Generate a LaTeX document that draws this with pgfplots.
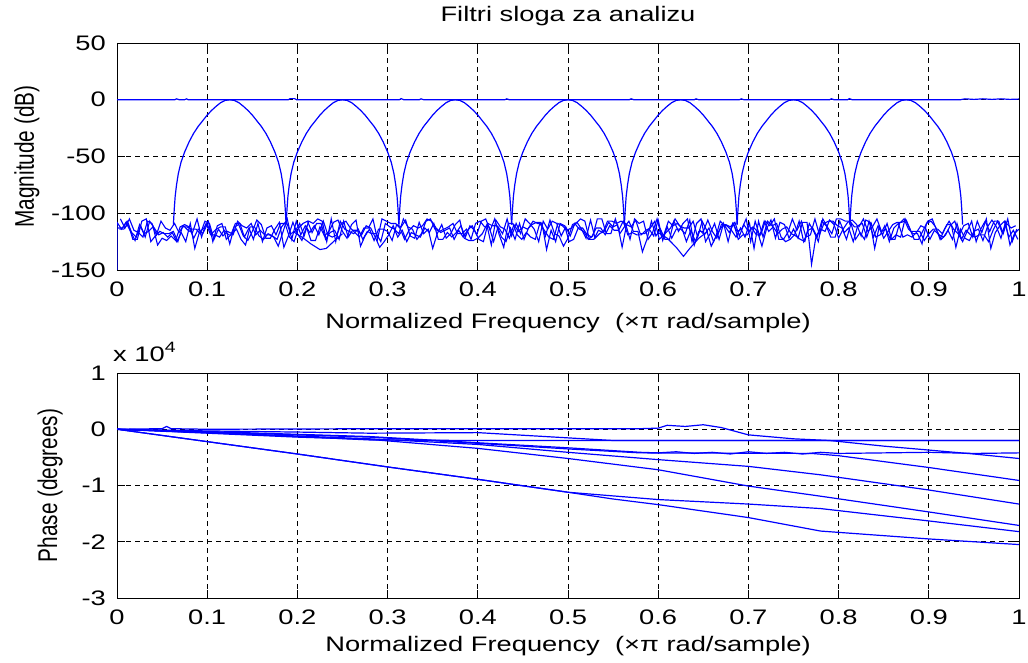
\documentclass[border=0pt]{standalone}
\usepackage{pgfplots}
\pgfplotsset{compat=1.18}
\usepackage{pgfplotstable}
\usepackage{fontspec}
\setmainfont{Liberation Sans}[FakeStretch=1.3]
\newfontfamily\rotfont{Liberation Sans}[FakeStretch=0.77]

\pgfplotstableread{
y x1 x2 x3 x4 x5 x6 x7
-110 0.0625 0.1875 0.3125 0.4375 0.5625 0.6875 0.8125
-96 0.0635 0.1885 0.3135 0.4385 0.5635 0.6885 0.8135
-85 0.0645 0.1895 0.3145 0.4395 0.5645 0.6895 0.8145
-75 0.066 0.191 0.316 0.441 0.566 0.691 0.816
-65 0.068 0.193 0.318 0.443 0.568 0.693 0.818
-55 0.071 0.196 0.321 0.446 0.571 0.696 0.821
-46 0.075 0.2 0.325 0.45 0.575 0.7 0.825
-37 0.08 0.205 0.33 0.455 0.58 0.705 0.83
-29.5 0.085 0.21 0.335 0.46 0.585 0.71 0.835
-23.5 0.09 0.215 0.34 0.465 0.59 0.715 0.84
-18.5 0.095 0.22 0.345 0.47 0.595 0.72 0.845
-13.5 0.1 0.225 0.35 0.475 0.6 0.725 0.85
-9.3 0.105 0.23 0.355 0.48 0.605 0.73 0.855
-5.7 0.11 0.235 0.36 0.485 0.61 0.735 0.86
-2.5 0.115 0.24 0.365 0.49 0.615 0.74 0.865
-0.6 0.12 0.245 0.37 0.495 0.62 0.745 0.87
0 0.125 0.25 0.375 0.5 0.625 0.75 0.875
-0.6 0.13 0.255 0.38 0.505 0.63 0.755 0.88
-2.5 0.135 0.26 0.385 0.51 0.635 0.76 0.885
-5.7 0.14 0.265 0.39 0.515 0.64 0.765 0.89
-9.3 0.145 0.27 0.395 0.52 0.645 0.77 0.895
-13.5 0.15 0.275 0.4 0.525 0.65 0.775 0.9
-18.5 0.155 0.28 0.405 0.53 0.655 0.78 0.905
-23.5 0.16 0.285 0.41 0.535 0.66 0.785 0.91
-29.5 0.165 0.29 0.415 0.54 0.665 0.79 0.915
-37 0.17 0.295 0.42 0.545 0.67 0.795 0.92
-46 0.175 0.3 0.425 0.55 0.675 0.8 0.925
-55 0.179 0.304 0.429 0.554 0.679 0.804 0.929
-65 0.182 0.307 0.432 0.557 0.682 0.807 0.932
-75 0.184 0.309 0.434 0.559 0.684 0.809 0.934
-85 0.1855 0.3105 0.4355 0.5605 0.6855 0.8105 0.9355
-96 0.1865 0.3115 0.4365 0.5615 0.6865 0.8115 0.9365
-110 0.1875 0.3125 0.4375 0.5625 0.6875 0.8125 0.9375
}\humps

\pgfplotstableread{
x y
0 -150
0 -108
0.005 -114
0.01 -108
0.015 -116
0.02 -124
0.025 -110
0.03 -118
0.035 -116
0.04 -112
0.045 -128
0.05 -122
0.055 -124
0.06 -120
0.065 -124
0.07 -112
0.075 -110
0.08 -112
0.085 -122
0.09 -114
0.095 -118
0.1 -110
0.105 -118
0.11 -114
0.115 -112
0.12 -112
0.125 -127
0.13 -112
0.135 -110
0.14 -120
0.145 -124
0.15 -116
0.155 -106
0.16 -110
0.165 -122
0.17 -122
0.175 -114
0.18 -108
0.185 -130
0.19 -120
0.195 -108
0.2 -118
0.205 -124
0.21 -112
0.215 -124
0.22 -124
0.225 -112
0.23 -120
0.235 -116
0.24 -108
0.245 -106
0.25 -116
0.255 -122
0.26 -110
0.265 -106
0.27 -129
0.275 -120
0.28 -114
0.285 -124
0.29 -114
0.295 -114
0.3 -116
0.305 -124
0.31 -110
0.315 -112
0.32 -106
0.325 -120
0.33 -122
0.335 -108
0.34 -118
0.345 -114
0.35 -131
0.355 -118
0.36 -110
0.365 -122
0.37 -118
0.375 -110
0.38 -106
0.385 -122
0.39 -124
0.395 -124
0.4 -122
0.405 -118
0.41 -110
0.415 -128
0.42 -106
0.425 -112
0.43 -114
0.435 -122
0.44 -110
0.445 -116
0.45 -112
0.455 -114
0.46 -110
0.465 -108
0.47 -108
0.475 -120
0.48 -106
0.485 -118
0.49 -120
0.495 -129
0.5 -122
0.505 -110
0.51 -108
0.515 -114
0.52 -122
0.525 -106
0.53 -122
0.535 -118
0.54 -116
0.545 -108
0.55 -112
0.555 -110
0.56 -130
0.565 -110
0.57 -112
0.575 -106
0.58 -118
0.585 -118
0.59 -114
0.595 -120
0.6 -106
0.605 -124
0.61 -112
0.615 -122
0.62 -114
0.625 -114
0.63 -118
0.635 -106
0.64 -128
0.645 -116
0.65 -116
0.655 -106
0.66 -116
0.665 -122
0.67 -110
0.675 -110
0.68 -112
0.685 -108
0.69 -120
0.695 -110
0.7 -116
0.705 -112
0.71 -116
0.715 -129
0.72 -114
0.725 -106
0.73 -122
0.735 -108
0.74 -110
0.745 -122
0.75 -114
0.755 -122
0.76 -108
0.765 -108
0.77 -145
0.775 -120
0.78 -114
0.785 -116
0.79 -106
0.795 -110
0.8 -122
0.805 -114
0.81 -108
0.815 -106
0.82 -110
0.825 -120
0.83 -106
0.835 -108
0.84 -131
0.845 -112
0.85 -122
0.855 -116
0.86 -110
0.865 -108
0.87 -108
0.875 -106
0.88 -116
0.885 -116
0.89 -116
0.895 -124
0.9 -118
0.905 -114
0.91 -114
0.915 -118
0.92 -110
0.925 -110
0.93 -130
0.935 -114
0.94 -122
0.945 -124
0.95 -116
0.955 -114
0.96 -124
0.965 -112
0.97 -106
0.975 -112
0.98 -122
0.985 -108
0.99 -128
0.995 -118
1 -114
}\noiseA

\pgfplotstableread{
x y
0.0025 -114
0.0075 -114
0.0125 -109
0.0175 -123
0.0225 -123
0.0275 -107
0.0325 -105
0.0375 -125
0.0425 -120
0.0475 -116
0.0525 -118
0.0575 -118
0.0625 -116
0.0675 -125
0.0725 -112
0.0775 -112
0.0825 -114
0.0875 -114
0.0925 -118
0.0975 -107
0.1025 -109
0.1075 -123
0.1125 -114
0.1175 -120
0.1225 -116
0.1275 -118
0.1325 -114
0.1375 -123
0.1425 -128
0.1475 -112
0.1525 -112
0.1575 -120
0.1625 -123
0.1675 -118
0.1725 -120
0.1775 -123
0.1825 -112
0.1875 -107
0.1925 -118
0.1975 -116
0.2025 -109
0.2075 -120
0.2125 -107
0.2175 -109
0.2225 -105
0.2275 -107
0.2325 -125
0.2375 -105
0.2425 -125
0.2475 -107
0.2525 -114
0.2575 -116
0.2625 -118
0.2675 -114
0.2725 -123
0.2775 -116
0.2825 -118
0.2875 -118
0.2925 -125
0.2975 -109
0.3025 -112
0.3075 -114
0.3125 -118
0.3175 -105
0.3225 -112
0.3275 -114
0.3325 -123
0.3375 -118
0.3425 -107
0.3475 -105
0.3525 -114
0.3575 -116
0.3625 -114
0.3675 -112
0.3725 -109
0.3775 -118
0.3825 -118
0.3875 -114
0.3925 -123
0.3975 -109
0.4025 -107
0.4075 -112
0.4125 -112
0.4175 -125
0.4225 -112
0.4275 -118
0.4325 -105
0.4375 -120
0.4425 -109
0.4475 -118
0.4525 -105
0.4575 -109
0.4625 -114
0.4675 -125
0.4725 -107
0.4775 -114
0.4825 -107
0.4875 -109
0.4925 -120
0.4975 -112
0.5025 -120
0.5075 -109
0.5125 -114
0.5175 -116
0.5225 -123
0.5275 -120
0.5325 -105
0.5375 -105
0.5425 -118
0.5475 -118
0.5525 -105
0.5575 -118
0.5625 -112
0.5675 -107
0.5725 -116
0.5775 -116
0.5825 -134
0.5875 -123
0.5925 -107
0.5975 -120
0.6025 -114
0.6075 -123
0.6125 -123
0.6175 -107
0.6225 -116
0.6275 -109
0.6325 -105
0.6375 -125
0.6425 -109
0.6475 -105
0.6525 -125
0.6575 -118
0.6625 -109
0.6675 -123
0.6725 -109
0.6775 -125
0.6825 -109
0.6875 -116
0.6925 -114
0.6975 -105
0.7025 -125
0.7075 -107
0.7125 -120
0.7175 -107
0.7225 -116
0.7275 -112
0.7325 -118
0.7375 -114
0.7425 -112
0.7475 -118
0.7525 -120
0.7575 -123
0.7625 -125
0.7675 -109
0.7725 -116
0.7775 -125
0.7825 -105
0.7875 -112
0.7925 -118
0.7975 -105
0.8025 -105
0.8075 -107
0.8125 -107
0.8175 -112
0.8225 -112
0.8275 -105
0.8325 -116
0.8375 -112
0.8425 -105
0.8475 -116
0.8525 -114
0.8575 -123
0.8625 -123
0.8675 -109
0.8725 -105
0.8775 -114
0.8825 -118
0.8875 -118
0.8925 -127
0.8975 -109
0.9025 -107
0.9075 -112
0.9125 -123
0.9175 -114
0.9225 -107
0.9275 -114
0.9325 -118
0.9375 -125
0.9425 -116
0.9475 -107
0.9525 -125
0.9575 -114
0.9625 -107
0.9675 -116
0.9725 -107
0.9775 -107
0.9825 -118
0.9875 -105
0.9925 -125
0.9975 -114
}\noiseB

\pgfplotstableread{
x y
0.00125 -113
0.00625 -113
0.01125 -107
0.01625 -117
0.02125 -121
0.02625 -111
0.03125 -121
0.03625 -107
0.04125 -113
0.04625 -119
0.05125 -117
0.05625 -121
0.06125 -117
0.06625 -125
0.07125 -117
0.07625 -125
0.08125 -109
0.08625 -131
0.09125 -117
0.09625 -113
0.10125 -107
0.10625 -125
0.11125 -111
0.11625 -109
0.12125 -123
0.12625 -119
0.13125 -109
0.13625 -109
0.14125 -121
0.14625 -113
0.15125 -123
0.15625 -109
0.16125 -125
0.16625 -113
0.17125 -111
0.17625 -119
0.18125 -109
0.18625 -109
0.19125 -121
0.19625 -125
0.20125 -113
0.20625 -109
0.21125 -107
0.21625 -117
0.22125 -109
0.22625 -109
0.23125 -123
0.23625 -117
0.24125 -115
0.24625 -123
0.25125 -107
0.25625 -121
0.26125 -115
0.26625 -115
0.27125 -119
0.27625 -111
0.28125 -113
0.28625 -121
0.29125 -130
0.29625 -125
0.30125 -119
0.30625 -111
0.31125 -121
0.31625 -115
0.32125 -125
0.32625 -117
0.33125 -119
0.33625 -121
0.34125 -113
0.34625 -117
0.35125 -109
0.35625 -123
0.36125 -123
0.36625 -117
0.37125 -121
0.37625 -117
0.38125 -111
0.38625 -121
0.39125 -111
0.39625 -115
0.40125 -123
0.40625 -125
0.41125 -109
0.41625 -111
0.42125 -111
0.42625 -121
0.43125 -125
0.43625 -113
0.44125 -123
0.44625 -109
0.45125 -123
0.45625 -113
0.46125 -107
0.46625 -109
0.47125 -109
0.47625 -132
0.48125 -115
0.48625 -125
0.49125 -109
0.49625 -111
0.50125 -125
0.50625 -123
0.51125 -113
0.51625 -113
0.52125 -119
0.52625 -121
0.53125 -113
0.53625 -113
0.54125 -119
0.54625 -111
0.55125 -115
0.55625 -115
0.56125 -107
0.56625 -119
0.57125 -117
0.57625 -119
0.58125 -119
0.58625 -115
0.59125 -113
0.59625 -107
0.60125 -123
0.60625 -119
0.61125 -107
0.61625 -111
0.62125 -109
0.62625 -113
0.63125 -125
0.63625 -115
0.64125 -125
0.64625 -115
0.65125 -119
0.65625 -113
0.66125 -125
0.66625 -117
0.67125 -111
0.67625 -111
0.68125 -115
0.68625 -121
0.69125 -113
0.69625 -121
0.70125 -109
0.70625 -131
0.71125 -107
0.71625 -121
0.72125 -107
0.72625 -111
0.73125 -109
0.73625 -121
0.74125 -125
0.74625 -123
0.75125 -119
0.75625 -107
0.76125 -125
0.76625 -115
0.77125 -113
0.77625 -121
0.78125 -107
0.78625 -111
0.79125 -121
0.79625 -121
0.80125 -107
0.80625 -117
0.81125 -113
0.81625 -125
0.82125 -111
0.82625 -109
0.83125 -121
0.83625 -109
0.84125 -121
0.84625 -119
0.85125 -111
0.85625 -125
0.86125 -113
0.86625 -109
0.87125 -121
0.87625 -119
0.88125 -121
0.88625 -117
0.89125 -111
0.89625 -113
0.90125 -123
0.90625 -115
0.91125 -119
0.91625 -121
0.92125 -115
0.92625 -123
0.93125 -109
0.93625 -123
0.94125 -115
0.94625 -119
0.95125 -121
0.95625 -119
0.96125 -119
0.96625 -125
0.97125 -115
0.97625 -107
0.98125 -117
0.98625 -109
0.99125 -113
0.99625 -111
}\noiseC

\pgfplotstableread{
x y
0.00375 -105
0.00875 -113
0.01375 -105
0.01875 -115
0.02375 -117
0.02875 -121
0.03375 -107
0.03875 -109
0.04375 -119
0.04875 -107
0.05375 -113
0.05875 -115
0.06375 -109
0.06875 -117
0.07375 -111
0.07875 -115
0.08375 -117
0.08875 -105
0.09375 -121
0.09875 -109
0.10375 -119
0.10875 -119
0.11375 -121
0.11875 -115
0.12375 -119
0.12875 -119
0.13375 -107
0.13875 -111
0.14375 -113
0.14875 -109
0.15375 -119
0.15875 -115
0.16375 -119
0.16875 -119
0.17375 -121
0.17875 -129
0.18375 -117
0.18875 -105
0.19375 -123
0.19875 -107
0.20375 -119
0.20875 -111
0.21375 -117
0.21875 -111
0.22375 -119
0.22875 -107
0.23375 -119
0.23875 -121
0.24375 -119
0.24875 -109
0.25375 -107
0.25875 -113
0.26375 -117
0.26875 -121
0.27375 -113
0.27875 -113
0.28375 -105
0.28875 -123
0.29375 -105
0.29875 -107
0.30375 -109
0.30875 -109
0.31375 -113
0.31875 -123
0.32375 -115
0.32875 -111
0.33375 -113
0.33875 -111
0.34375 -105
0.34875 -107
0.35375 -113
0.35875 -117
0.36375 -115
0.36875 -113
0.37375 -123
0.37875 -115
0.38375 -121
0.38875 -115
0.39375 -111
0.39875 -119
0.40375 -107
0.40875 -105
0.41375 -115
0.41875 -105
0.42375 -119
0.42875 -130
0.43375 -109
0.43875 -109
0.44375 -119
0.44875 -123
0.45375 -117
0.45875 -121
0.46375 -123
0.46875 -109
0.47375 -115
0.47875 -121
0.48375 -123
0.48875 -109
0.49375 -111
0.49875 -115
0.50375 -113
0.50875 -109
0.51375 -105
0.51875 -107
0.52375 -123
0.52875 -123
0.53375 -115
0.53875 -117
0.54375 -107
0.54875 -107
0.55375 -109
0.55875 -107
0.56375 -109
0.56875 -123
0.57375 -105
0.57875 -109
0.58375 -107
0.58875 -123
0.59375 -117
0.59875 -105
0.60375 -121
0.60875 -117
0.61375 -113
0.61875 -105
0.62375 -111
0.62875 -113
0.63375 -113
0.63875 -107
0.64375 -121
0.64875 -107
0.65375 -115
0.65875 -129
0.66375 -121
0.66875 -107
0.67375 -111
0.67875 -117
0.68375 -109
0.68875 -123
0.69375 -119
0.69875 -119
0.70375 -113
0.70875 -119
0.71375 -119
0.71875 -107
0.72375 -111
0.72875 -105
0.73375 -123
0.73875 -123
0.74375 -117
0.74875 -105
0.75375 -115
0.75875 -107
0.76375 -121
0.76875 -119
0.77375 -105
0.77875 -119
0.78375 -109
0.78875 -107
0.79375 -107
0.79875 -111
0.80375 -113
0.80875 -123
0.81375 -109
0.81875 -123
0.82375 -117
0.82875 -123
0.83375 -107
0.83875 -121
0.84375 -111
0.84875 -119
0.85375 -109
0.85875 -123
0.86375 -119
0.86875 -121
0.87375 -105
0.87875 -113
0.88375 -123
0.88875 -123
0.89375 -115
0.89875 -107
0.90375 -105
0.90875 -115
0.91375 -123
0.91875 -119
0.92375 -111
0.92875 -107
0.93375 -119
0.93875 -111
0.94375 -109
0.94875 -121
0.95375 -107
0.95875 -117
0.96375 -105
0.96875 -131
0.97375 -117
0.97875 -111
0.98375 -107
0.98875 -121
0.99375 -115
0.99875 -123
}\noiseD

\pgfplotsset{
  bl/.style={blue, solid, mark=none, line width=1.2pt},
  bn/.style={blue, solid, mark=none, line width=1.1pt},
  mstyle/.style={
    scale only axis, width=902pt,
    xmin=0, xmax=1,
    xtick={0,0.1,0.2,0.3,0.4,0.5,0.6,0.7,0.8,0.9,1},
    xticklabels={0,0.1,0.2,0.3,0.4,0.5,0.6,0.7,0.8,0.9,1},
    grid=major,
    major grid style={black, line width=0.8pt, dash pattern=on 5pt off 4pt},
    tick align=inside, major tick length=8pt,
    every tick/.style={black, line width=0.9pt},
    axis line style={black, line width=0.9pt},
    tick label style={font=\fontsize{21}{24}\selectfont},
    label style={font=\fontsize{21}{24}\selectfont},
    x tick label style={anchor=center, yshift=-19pt, inner sep=0pt},
    y tick label style={anchor=east, xshift=-11pt, inner sep=0pt},
  }
}

\begin{document}
\begin{tikzpicture}[font=\fontsize{21}{24}\selectfont]
\useasboundingbox (0,0) rectangle (1028pt,662pt);

\begin{axis}[mstyle,
  at={(117pt,392pt)}, anchor=south west, height=227pt,
  ymin=-150, ymax=50,
  ytick={-150,-100,-50,0,50},
  yticklabels={-150,-100,-50,0,50},
  title={Filtri sloga za analizu},
  title style={at={(axis description cs:0.5,1)}, anchor=center, yshift=21pt, font=\fontsize{21}{24}\selectfont},
  xlabel={Normalized Frequency\ \ (×π rad/sample)},
  xlabel style={at={(axis description cs:0.5,0)}, anchor=center, yshift=-53pt},
  ylabel={\rotfont\fontsize{27}{30}\selectfont Magnitude (dB)},
  ylabel style={at={(axis description cs:-0.100,0.5)}, anchor=center},
]
\addplot[bn] table[x=x, y=y] {\noiseA};
\addplot[bn] table[x=x, y=y] {\noiseB};
\addplot[bn] table[x=x, y=y] {\noiseC};
\addplot[bn] table[x=x, y=y] {\noiseD};
\addplot[bn] coordinates {(0.195,-116) (0.205,-121) (0.215,-127) (0.225,-132) (0.232,-131) (0.24,-125) (0.25,-118)};
\addplot[bn] coordinates {(0.6,-117) (0.61,-122) (0.62,-130) (0.628,-138) (0.635,-131) (0.645,-122) (0.655,-116)};
\addplot[bl] table[x=x1, y=y] {\humps};
\addplot[bl] table[x=x2, y=y] {\humps};
\addplot[bl] table[x=x3, y=y] {\humps};
\addplot[bl] table[x=x4, y=y] {\humps};
\addplot[bl] table[x=x5, y=y] {\humps};
\addplot[bl] table[x=x6, y=y] {\humps};
\addplot[bl] table[x=x7, y=y] {\humps};
\addplot[bl] coordinates {(0,0) (0.064,0) (0.066,0.8) (0.069,0) (0.075,0) (0.077,0.8) (0.079,0) (0.19,0) (0.192,1) (0.197,1) (0.199,0) (0.313,0) (0.315,1) (0.318,0) (0.335,0) (0.337,0.8) (0.34,0) (0.43,0) (0.432,0.8) (0.435,0) (0.568,0) (0.57,0.8) (0.573,0) (0.64,0) (0.642,0.8) (0.645,0) (0.69,0) (0.692,0.8) (0.695,0) (0.79,0) (0.792,0.8) (0.795,0) (0.81,0) (0.812,1) (0.815,0) (0.935,0) (0.94,0.8) (0.95,0.3) (0.96,0.8) (0.97,0.3) (0.98,0.8) (0.99,0.3) (1,0.6)};
\end{axis}

\begin{axis}[mstyle,
  at={(117pt,64pt)}, anchor=south west, height=225pt,
  ymin=-3, ymax=1,
  ytick={-3,-2,-1,0,1},
  yticklabels={-3,-2,-1,0,1},
  xlabel={Normalized Frequency\ \ (×π rad/sample)},
  xlabel style={at={(axis description cs:0.5,0)}, anchor=center, yshift=-48pt},
  ylabel={\rotfont\fontsize{27}{30}\selectfont Phase (degrees)},
  ylabel style={at={(axis description cs:-0.074,0.5)}, anchor=center},
]
\addplot[bl] coordinates {(0,0) (0.05,0.01) (0.055,0.05) (0.06,0.01) (0.1,0) (0.2,0.005) (0.3,0.01) (0.4,0.01) (0.5,0.01) (0.58,0.01) (0.6,0.02) (0.61,0.07) (0.63,0.05) (0.65,0.08) (0.67,0.03) (0.7,-0.1) (0.75,-0.17) (0.79,-0.2) (0.85,-0.3) (0.9,-0.37) (0.95,-0.44) (1,-0.52)};
\addplot[bl] coordinates {(0,0) (0.1,-0.06) (0.2,-0.13) (0.28,-0.19) (0.4,-0.2) (1,-0.2)};
\addplot[bl] coordinates {(0,0) (0.1,-0.03) (0.2,-0.05) (0.28,-0.07) (0.4,-0.06) (0.55,-0.2) (1,-0.2)};
\addplot[bl] coordinates {(0,0) (0.1,-0.04) (0.2,-0.09) (0.28,-0.13) (0.4,-0.24) (0.5,-0.33) (0.58,-0.41) (0.6,-0.42) (0.62,-0.4) (0.64,-0.43) (0.66,-0.41) (0.68,-0.44) (0.7,-0.4) (0.72,-0.43) (0.74,-0.41) (0.76,-0.44) (0.78,-0.41) (0.8,-0.43) (0.85,-0.42) (0.9,-0.41) (0.95,-0.43) (1,-0.42)};
\addplot[bl] coordinates {(0,0) (0.1,-0.05) (0.2,-0.1) (0.28,-0.14) (0.4,-0.25) (0.5,-0.35) (0.58,-0.42) (0.77,-0.43) (0.8,-0.47) (0.9,-0.68) (1,-0.91)};
\addplot[bl] coordinates {(0,0) (0.1,-0.06) (0.2,-0.12) (0.28,-0.17) (0.4,-0.27) (0.5,-0.41) (0.6,-0.54) (0.7,-0.66) (0.78,-0.81) (0.9,-1.08) (1,-1.33)};
\addplot[bl] coordinates {(0,0) (0.1,-0.07) (0.2,-0.14) (0.28,-0.18) (0.4,-0.34) (0.5,-0.52) (0.6,-0.72) (0.7,-1.01) (0.78,-1.19) (0.9,-1.47) (1,-1.71)};
\addplot[bl] coordinates {(0,0) (0.1,-0.22) (0.2,-0.44) (0.3,-0.67) (0.4,-0.89) (0.5,-1.12) (0.6,-1.25) (0.7,-1.33) (0.78,-1.41) (0.9,-1.63) (1,-1.82)};
\addplot[bl] coordinates {(0,0) (0.1,-0.22) (0.2,-0.44) (0.3,-0.67) (0.4,-0.89) (0.5,-1.12) (0.55,-1.24) (0.6,-1.34) (0.7,-1.57) (0.78,-1.81) (0.9,-1.95) (1,-2.05)};
\end{axis}
\node[anchor=west, inner sep=0pt] at (113pt,310pt) {x 10\raisebox{9pt}{\fontsize{15}{15}\selectfont 4}};
\end{tikzpicture}
\end{document}
